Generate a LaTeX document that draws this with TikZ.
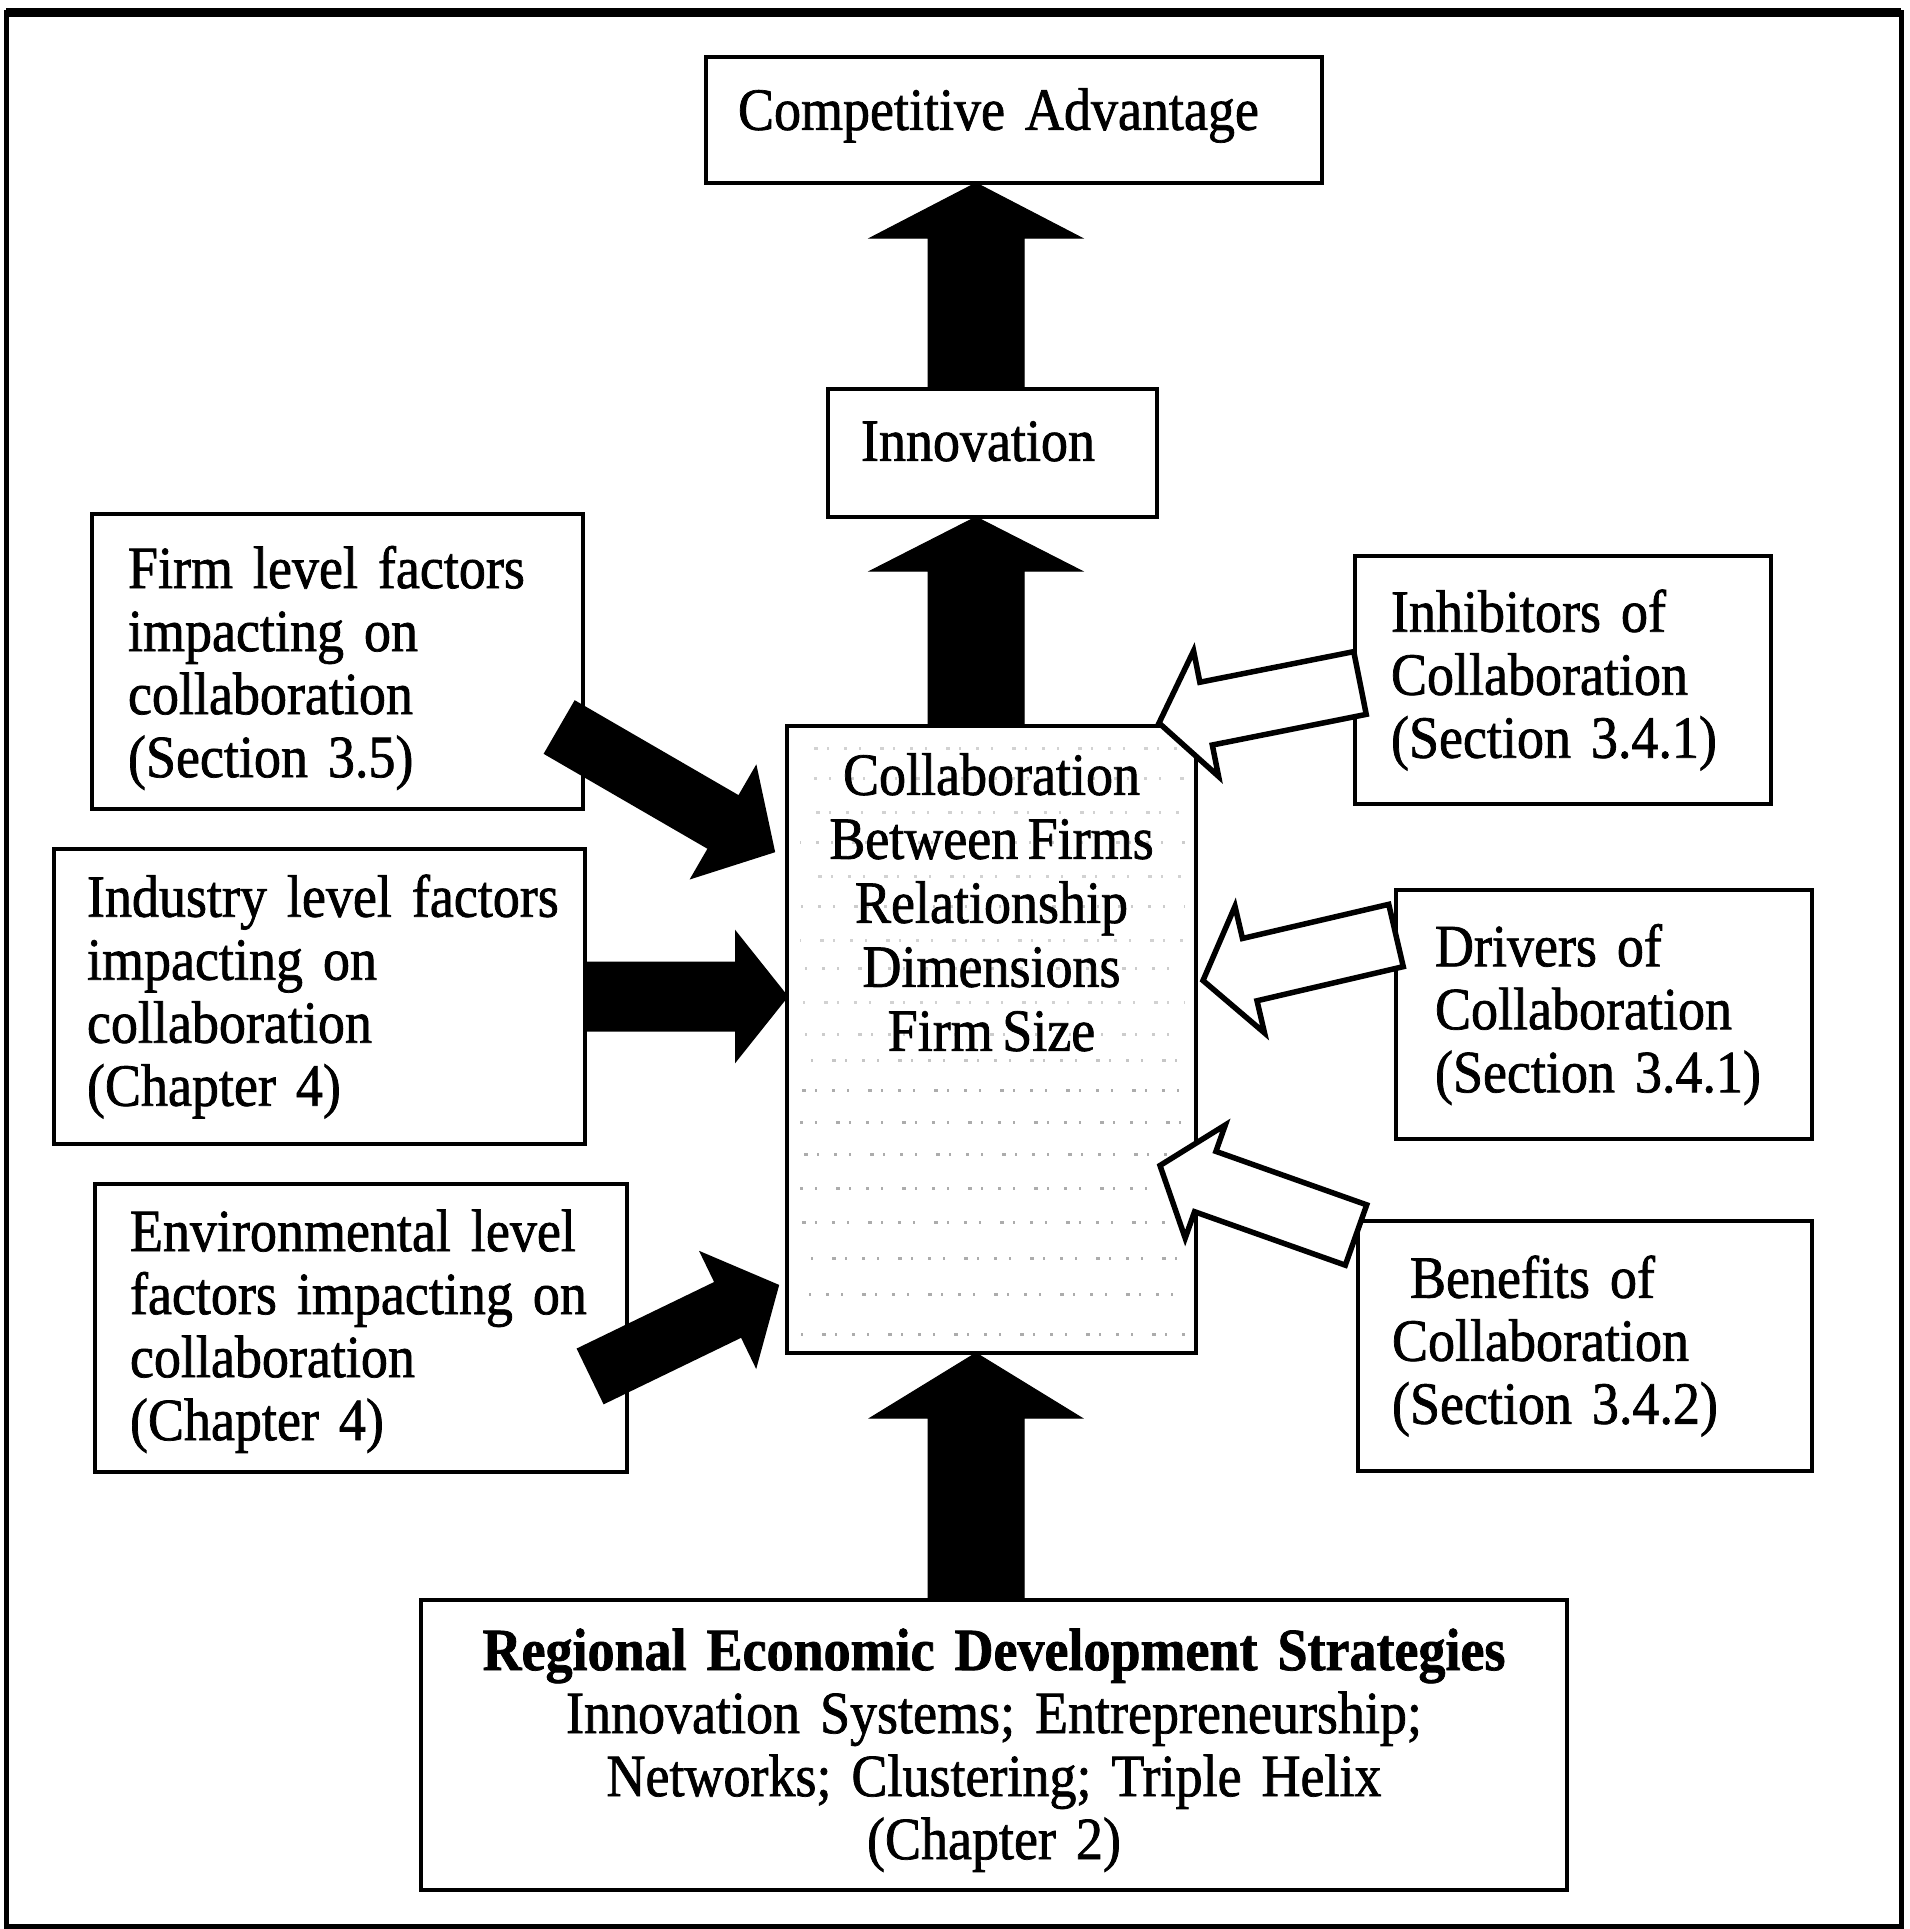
\documentclass[tikz,border=0pt]{standalone}
\usepackage{fontspec}
\setmainfont{Liberation Serif}[FakeStretch=0.9,FakeBold=1.2,WordSpace=0.7]
\usetikzlibrary{calc}

% Block arrow from #2 (tail) to #3 (tip):
% #1 style, #4 half shaft width, #5 half head width, #6 head length
\newcommand\blockarrow[6]{%
  \path (#2) coordinate (ba-tail) (#3) coordinate (ba-tip);
  \path ($(ba-tip)!#6!(ba-tail)$) coordinate (ba-base);
  \path[#1] ($(ba-tail)!#4!90:(ba-tip)$)
    -- ($(ba-base)!#4!-90:(ba-tail)$)
    -- ($(ba-base)!#5!-90:(ba-tail)$)
    -- (ba-tip)
    -- ($(ba-base)!#5!90:(ba-tail)$)
    -- ($(ba-base)!#4!90:(ba-tail)$)
    -- ($(ba-tail)!#4!-90:(ba-tip)$) -- cycle;}

\begin{document}
\begin{tikzpicture}[x=1pt,y=-1pt,
  every node/.style={font=\fontsize{60}{63}\selectfont},
  box/.style={draw=black,line width=4pt,anchor=north west,align=left,
              inner ysep=0pt,outer sep=0pt},
  solidarrow/.style={fill=black,draw=black,line width=1pt,line join=miter},
  darkarrow/.style={fill=black,draw=black,line width=2pt,line join=miter},
  openarrow/.style={fill=white,draw=black,line width=5.5pt,line join=miter},
  speck/.style={line width=3pt,dash pattern=on 3pt off 12pt on 2pt off 19pt on 4pt off 9pt on 2pt off 15pt}]

\fill[white] (0,0) rectangle (1909,1929);
\useasboundingbox (0,0) rectangle (1909,1929);

% outer frame
\draw[line width=5pt] (6,13) rectangle (1901,1926);
\draw[line width=9pt] (6,13) -- (1901,13);

% boxes
\node[box,minimum width=616pt,minimum height=126pt,text width=552pt,inner xsep=32pt,text depth=22pt]
  (comp) at (706,57) {Competitive Advantage};
\node[box,minimum width=329pt,minimum height=128pt,text width=263pt,inner xsep=33pt,text depth=24pt]
  (innov) at (828,389) {Innovation};
\node[box,minimum width=409pt,minimum height=627pt] (central) at (787,726) {};

\node[box,minimum width=491pt,minimum height=295pt,text width=419pt,inner xsep=36pt,text height=55pt]
  (firm) at (92,514) {Firm level factors\\impacting on\\collaboration\\(Section 3.5)};
\node[box,minimum width=531pt,minimum height=295pt,text width=465pt,inner xsep=33pt]
  (industry) at (54,849) {\mbox{Industry level factors}\\impacting on\\collaboration\\(Chapter 4)};
\node[box,minimum width=532pt,minimum height=288pt,text width=462pt,inner xsep=35pt,text height=48pt]
  (env) at (95,1184) {\mbox{Environmental level}\\\mbox{factors impacting on}\\collaboration\\(Chapter 4)};

\node[box,minimum width=416pt,minimum height=248pt,text width=344pt,inner xsep=36pt]
  (inhib) at (1355,556) {Inhibitors of\\Collaboration\\(Section 3.4.1)};
\node[box,minimum width=416pt,minimum height=249pt,text width=338pt,inner xsep=39pt]
  (drivers) at (1396,890) {Drivers of\\Collaboration\\(Section 3.4.1)};
\node[box,minimum width=454pt,minimum height=250pt,text width=386pt,inner xsep=34pt]
  (benefits) at (1358,1221) {\hspace*{18pt}Benefits of\\Collaboration\\(Section 3.4.2)};

\node[box,align=center,minimum width=1146pt,minimum height=290pt,text width=1100pt,inner xsep=23pt,text height=52pt]
  (regional) at (421,1600)
  {\textbf{Regional Economic Development Strategies}\\
   Innovation Systems; Entrepreneurship;\\
   Networks; Clustering; Triple Helix\\
   (Chapter 2)};

% speckled texture inside the central box
\foreach \y/\c in {748/35,778/35,812/35,842/40,876/35,906/40,940/35,968/40,1002/35,1034/40,
                   1060/45,1090/65,1122/65,1154/65,1188/65,1222/65,1258/65,1294/65,1334/65}
  \draw[speck,gray!\c,dash phase=\y] (800,\y) -- (1185,\y);

% central box text
\node[anchor=north,align=center,inner sep=0pt,font=\fontsize{60}{64}\selectfont]
  (centraltext) at ($(central.north)+(0,27)$)
  {Collaboration\\Between Firms\\Relationship\\Dimensions\\Firm Size};

% vertical flow
\coordinate (axis) at (976,0);
\blockarrow{solidarrow}{innov.north -| axis}{comp.south -| axis}{48pt}{106pt}{55pt}
\blockarrow{solidarrow}{central.north -| axis}{innov.south -| axis}{48pt}{106pt}{54pt}
\blockarrow{solidarrow}{regional.north -| axis}{central.south -| axis}{48pt}{106pt}{65pt}

% factors feeding collaboration
\blockarrow{darkarrow}{$(firm.east)+(-23,66)$}{$(central.west)+(-13,-188)$}{30pt}{64pt}{58pt}
\blockarrow{darkarrow}{industry.east}{central.west |- industry.east}{34pt}{64pt}{51pt}
\blockarrow{darkarrow}{$(env.east)+(-36,48)$}{$(central.west)+(-9,246)$}{30pt}{63pt}{55pt}

% inhibitors, drivers, benefits
\blockarrow{openarrow}{$(inhib.west)+(5,3)$}{$(central.north east)+(-37,-3)$}{32pt}{64pt}{48pt}
\blockarrow{openarrow}{$(drivers.west)+(0,-79)$}{$(central.east)+(7,-59)$}{32pt}{65pt}{48pt}
\blockarrow{openarrow}{$(benefits.north west)+(-2,14)$}{$(central.east)+(-36,126)$}{32pt}{60pt}{48pt}

\end{tikzpicture}
\end{document}
